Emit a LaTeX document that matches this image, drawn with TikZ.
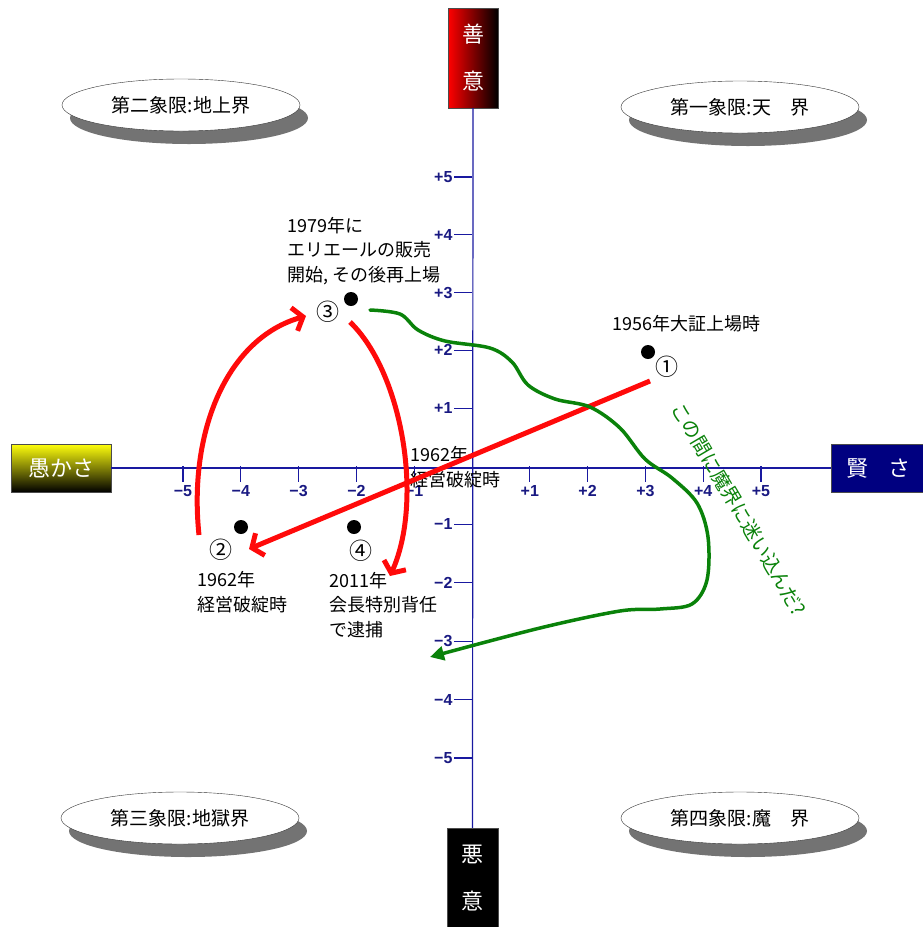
\documentclass[tikz,border=0pt]{standalone}
\usepackage{fontspec}
\setmainfont{Noto Sans CJK JP}
\newfontfamily\tickfont{Liberation Sans}
\usetikzlibrary{arrows.meta,shapes.geometric,shadows}
\definecolor{axisblue}{RGB}{25,25,160}
\definecolor{ticktext}{RGB}{25,25,130}
\definecolor{grn}{RGB}{10,130,10}
\definecolor{navybox}{RGB}{0,0,128}
\definecolor{redline}{RGB}{255,10,10}
\begin{document}
\begin{tikzpicture}[x=1pt,y=-1pt,
  axisline/.style={draw=axisblue, line width=1.2pt},
  ticklbl/.style={font=\tickfont\bfseries\fontsize{16}{17}\selectfont, text=ticktext, inner sep=1pt},
  poleb/.style={draw=black!70, inner sep=0pt, text=white, font=\fontsize{22}{47}\selectfont, align=center},
  quad/.style={ellipse, draw=black!80, fill=white, minimum width=238pt, minimum height=52pt,
     drop shadow={shadow xshift=8pt, shadow yshift=-13pt, fill=black!55, opacity=1},
     font=\fontsize{19}{20}\selectfont},
  lbl/.style={font=\fontsize{18}{24.5}\selectfont, align=left, inner sep=0pt},
  circ/.style={font=\fontsize{23}{23}\selectfont, inner sep=0pt},
  dot/.style={circle, fill=black, minimum size=14pt, inner sep=0pt},
  redarrow/.style={draw=redline, line width=5pt, -{Straight Barb[length=9pt,width=24pt]}},
  greenarrow/.style={draw=grn, line width=3.5pt, -{Triangle[length=14pt,width=14pt]}}
]
\useasboundingbox (0,0) rectangle (923,927);

% pole boxes
\node[poleb, left color=red, right color=black, minimum width=50pt, minimum height=100pt] (zen) at (473,58) {善\\意};
\node[poleb, fill=black, minimum width=51pt, minimum height=100pt] (aku) at (472.5,878) {悪\\意};
\node[poleb, top color=yellow!95!white, bottom color=black, minimum width=100pt, minimum height=48pt, font=\fontsize{22}{24}\selectfont] (gu) at (61,468) {愚かさ};
\node[poleb, fill=navybox, minimum width=94pt, minimum height=48pt, font=\fontsize{22}{24}\selectfont, anchor=west] (ken) at (831,468) {賢\hspace{0.9em}さ};

% axes
\draw[axisline] (zen.south) -- (aku.north);
\draw[axisline] (gu.east) -- (ken.west);

% ticks
\foreach \i in {1,...,5}{
  \draw[axisline] ({472+57.8*\i},466) -- ++(0,16) node[below=2pt, ticklbl] {+\i};
  \draw[axisline] ({472-57.8*\i},466) -- ++(0,16) node[below=2pt, ticklbl] {−\i};
  \draw[axisline] (472,{466-57.8*\i}) -- ++(-18,0) node[left, ticklbl] {+\i};
  \draw[axisline] (472,{466+58.4*\i}) -- ++(-18,0) node[left, ticklbl] {−\i};
}

% quadrant ellipses
\node[quad] (q2) at (181,105) {第二象限:地上界};
\node[quad] (q1) at (740,107) {第一象限:天\hspace{1em}界};
\node[quad] (q3) at (180,818) {第三象限:地獄界};
\node[quad] (q4) at (740,818) {第四象限:魔\hspace{1em}界};

% points
\node[dot] (d1) at (648,352) {};
\node[dot] (d3) at (351,299) {};
\node[dot] (d2) at (241,527) {};
\node[dot] (d4) at (354,527) {};
\node[circ] (c1) at (667,367) {①};
\node[circ] (c3) at (328,312) {③};
\node[circ] (c2) at (221,550) {②};
\node[circ] (c4) at (361,551) {④};

% labels
\node[lbl, anchor=west] (t1) at (612,324) {1956年大証上場時};
\node[lbl, anchor=west] (t3) at (287,251) {1979年に\\エリエールの販売\\開始, その後再上場};
\node[lbl, anchor=west] (t2) at (197,592) {1962年\\経営破綻時};
\node[lbl, anchor=west] (t4) at (329,605) {2011年\\会長特別背任\\で逮捕};
\node[lbl, anchor=west] (t0) at (410,467) {1962年\\経営破綻時};

% arrow end points
\coordinate (r1s) at (650,381);
\coordinate (r1e) at (249,549);
\coordinate (r2s) at (199,535);
\coordinate (r2e) at (306,316);
\coordinate (r3s) at (350,322);
\coordinate (r3e) at (390,576);
\coordinate (gs) at (370,310);
\coordinate (ge) at (430,657);

% red arrows
\draw[redarrow] (r1s) -- (r1e);
\draw[redarrow] (r2s) .. controls (188,430) and (228,338) .. (r2e);
\draw[redarrow] (r3s) .. controls (402,372) and (424,500) .. (r3e);

% green arrow
\draw[greenarrow, line cap=round] plot[smooth, tension=0.55] coordinates {(gs) (400,314) (418,330) (445,341) (490,348) (512,362) (528,385) (555,399) (590,407) (620,428) (645,459) (672,478) (697,503) (708,537) (707,580) (692,604) (660,609) (620,611) (540,628) (ge)};

% rotated green text
\node[text=grn, font=\fontsize{19.5}{20}\selectfont, rotate=-59.4, inner sep=0pt] (gt) at (739,509) {この間に魔界に迷い込んだ?};
\end{tikzpicture}
\end{document}
